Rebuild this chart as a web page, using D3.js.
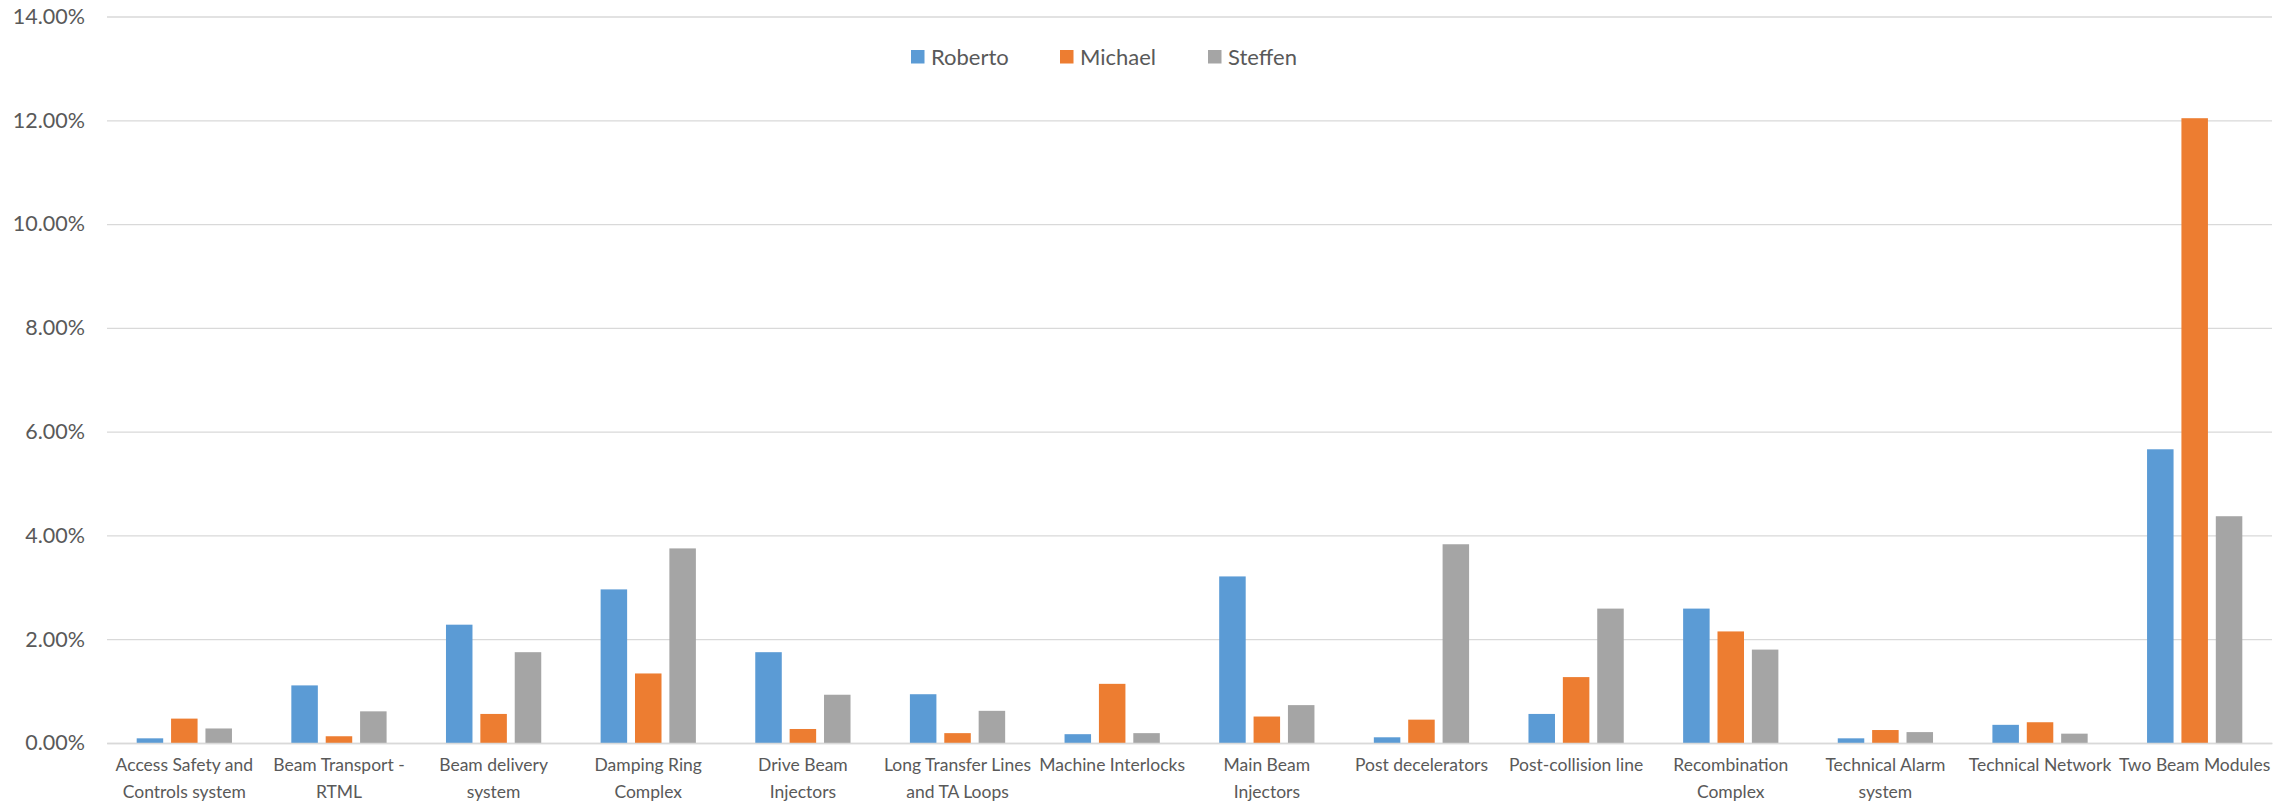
<!DOCTYPE html>
<html>
<head>
<meta charset="utf-8">
<script src="https://cdn.jsdelivr.net/npm/d3@7/dist/d3.min.js"></script>
<style>
  html, body { margin: 0; padding: 0; background: #fff; }
  text { font-family: Lato, "Open Sans", sans-serif; fill: #595959; }
</style>
</head>
<body>
<svg id="chart"></svg>
<script>
/* データ */
const categories = [
  "Access Safety and Controls system",
  "Beam Transport - RTML",
  "Beam delivery system",
  "Damping Ring Complex",
  "Drive Beam Injectors",
  "Long Transfer Lines and TA Loops",
  "Machine Interlocks",
  "Main Beam Injectors",
  "Post decelerators",
  "Post-collision line",
  "Recombination Complex",
  "Technical Alarm system",
  "Technical Network",
  "Two Beam Modules"
];
const seriesNames = ["Roberto", "Michael", "Steffen"];
const roberto = [0.0009, 0.0111, 0.0228, 0.0296, 0.0175, 0.0094, 0.0017, 0.0321, 0.0011, 0.0056, 0.0259, 0.0009, 0.0035, 0.0566];
const michael = [0.0047, 0.0013, 0.0056, 0.0134, 0.0027, 0.0019, 0.0114, 0.0051, 0.0045, 0.0127, 0.0215, 0.0025, 0.0040, 0.1204];
const steffen = [0.0028, 0.0061, 0.0175, 0.0375, 0.0093, 0.0062, 0.0019, 0.0073, 0.0383, 0.0259, 0.0180, 0.0021, 0.0018, 0.0437];
const yTicks = [0, 0.02, 0.04, 0.06, 0.08, 0.10, 0.12, 0.14];
const colors = ["#5b9bd5", "#ed7d31", "#a5a5a5"];

const seriesValues = [roberto, michael, steffen];

/* SVG サイズ */
const width = 2295;
const height = 802;
const margin = { left: 107, right: 23, top: 16.5, bottom: 59 };

const svg = d3.select("#chart")
  .attr("width", width)
  .attr("height", height);

/* スケール */
const x0 = d3.scaleBand()
  .domain(categories)
  .range([margin.left, width - margin.right])
  .padding(0);

const groupW = x0.bandwidth() * 0.616;
const x1 = d3.scaleBand()
  .domain(seriesNames)
  .range([0, groupW])
  .paddingInner(0.229)
  .paddingOuter(0);

const y = d3.scaleLinear()
  .domain([0, 0.14])
  .range([height - margin.bottom, margin.top]);

/* グリッド線 + y 軸ラベル */
const yAxis = svg.append("g")
  .attr("class", "y_axis")
  .attr("transform", "translate(" + margin.left + ",0)")
  .call(
    d3.axisLeft(y)
      .tickValues(yTicks)
      .tickFormat(d3.format(".2%"))
      .tickSize(-(width - margin.left - margin.right))
      .tickPadding(22)
  );
yAxis.select(".domain").remove();
yAxis.selectAll(".tick line")
  .attr("stroke", "#d9d9d9")
  .attr("stroke-width", 1.3);
yAxis.selectAll(".tick text")
  .style("font-size", "21.5px")
  .style("fill", "#595959");

/* 棒 */
const groups = svg.append("g")
  .selectAll("g")
  .data(categories)
  .join("g")
  .attr("transform", d => "translate(" + (x0(d) + (x0.bandwidth() - groupW) / 2) + ",0)");

groups.selectAll("rect")
  .data((d, i) => seriesNames.map((s, k) => ({ s: s, k: k, v: seriesValues[k][i] })))
  .join("rect")
  .attr("x", d => x1(d.s))
  .attr("width", x1.bandwidth())
  .attr("y", d => y(d.v))
  .attr("height", d => y(0) - y(d.v))
  .attr("fill", d => colors[d.k]);

/* x 軸 */
const xAxis = svg.append("g")
  .attr("class", "x_axis")
  .attr("transform", "translate(0," + y(0) + ")")
  .call(d3.axisBottom(x0).tickSize(0).tickPadding(0));
xAxis.select(".domain")
  .attr("stroke", "#d9d9d9")
  .attr("stroke-width", 1.5);

/* ラベルを折り返す (幅はカテゴリ幅) */
function wrap(textSel, maxW) {
  textSel.each(function () {
    const text = d3.select(this);
    const words = text.text().split(/\s+/);
    text.text(null);
    let line = [];
    let lineNo = 0;
    let tspan = text.append("tspan").attr("x", 0).attr("y", 28);
    words.forEach(w => {
      line.push(w);
      tspan.text(line.join(" "));
      if (tspan.node().getComputedTextLength() > maxW && line.length > 1) {
        line.pop();
        tspan.text(line.join(" "));
        line = [w];
        lineNo++;
        tspan = text.append("tspan").attr("x", 0).attr("y", 28 + lineNo * 26.5).text(w);
      }
    });
  });
}

xAxis.selectAll(".tick text")
  .style("font-size", "17.5px")
  .style("fill", "#595959")
  .attr("dy", 0)
  .call(wrap, x0.bandwidth());

/* 凡例 */
const legendX = [911, 1060, 1208];
const legend = svg.append("g")
  .selectAll("g")
  .data(seriesNames)
  .join("g")
  .attr("transform", (d, i) => "translate(" + legendX[i] + ",50)");
legend.append("rect")
  .attr("width", 13.5)
  .attr("height", 13.5)
  .attr("fill", (d, i) => colors[i]);
legend.append("text")
  .attr("x", 20)
  .attr("y", 7)
  .attr("dy", "0.35em")
  .style("font-size", "22px")
  .text(d => d);
</script>
</body>
</html>
